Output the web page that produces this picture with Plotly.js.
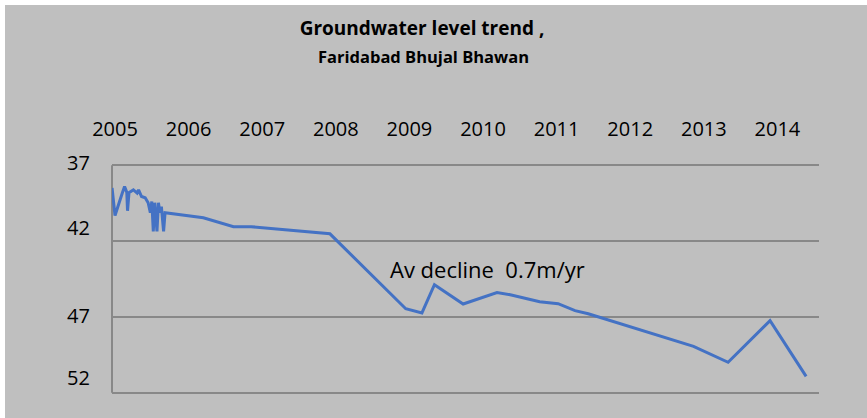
<!DOCTYPE html>
<html>
<head>
<meta charset="utf-8">
<script src="https://cdn.plot.ly/plotly-3.0.1.min.js"></script>
<style>
  html, body { margin: 0; padding: 0; background: #ffffff; width: 867px; height: 418px; overflow: hidden; }
  #chart { position: absolute; left: 5px; top: 5px; width: 862px; height: 413px; }
</style>
</head>
<body>
<div id="chart"></div>
<script>
// Groundwater level (m below ground), decimal year
const years = [2004.96, 2005.00, 2005.10, 2005.13, 2005.16, 2005.17, 2005.19, 2005.25, 2005.30, 2005.32,
               2005.36, 2005.41, 2005.45, 2005.48, 2005.50, 2005.52, 2005.54, 2005.57, 2005.59, 2005.61,
               2005.63, 2005.66, 2005.68, 2006.20, 2006.61, 2006.85, 2007.92, 2008.95, 2009.17, 2009.34,
               2009.73, 2010.19, 2010.37, 2010.77, 2011.02, 2011.25, 2011.43, 2012.86, 2013.33, 2013.90,
               2014.39];
const levels = [38.50, 40.31, 38.81, 38.40, 38.79, 40.00, 38.81, 38.62, 38.83, 38.62,
                39.06, 39.14, 39.47, 40.13, 39.39, 41.36, 39.47, 41.36, 39.47, 40.13,
                39.72, 41.36, 40.13, 40.46, 41.05, 41.05, 41.52, 46.46, 46.74, 44.88,
                46.15, 45.39, 45.54, 46.00, 46.13, 46.59, 46.79, 48.94, 49.99, 47.25,
                50.92];
const xTickVals = [2005, 2006, 2007, 2008, 2009, 2010, 2011, 2012, 2013, 2014];
const xTickText = ['2005', '2006', '2007', '2008', '2009', '2010', '2011', '2012', '2013', '2014'];
const yTickVals = [37, 42, 47, 52];
const yTickText = ['37', '42', '47', '52'];
const titleText = 'Groundwater level trend ,';
const subtitleText = 'Faridabad Bhujal Bhawan';
const noteText = 'Av decline  0.7m/yr';

// label vertical offsets (px) as placed in the original
const yLabelShift = [3, 14, 1, 15];

const FONT = 'Open Sans, Noto Sans, sans-serif';
const GRID = '#888888';

const TOP = 158.2, BOTTOM = 22.7, H = 413;
const plotH = H - TOP - BOTTOM;

const annotations = yTickText.map((t, i) => ({
  xref: 'paper', yref: 'y', x: 0, y: yTickVals[i],
  xanchor: 'right', yanchor: 'middle', xshift: -20, yshift: yLabelShift[i],
  text: t, showarrow: false, font: { family: FONT, size: 20, color: '#000' }
}));
annotations.push({
  xref: 'paper', yref: 'paper', x: (423 - 112) / 707, y: (H - BOTTOM - 52) / plotH,
  xanchor: 'center', yanchor: 'middle',
  text: '<b>' + subtitleText + '</b>', showarrow: false,
  font: { family: FONT, size: 16.5, color: '#000' }
});
annotations.push({
  xref: 'x', yref: 'y', x: 2010.06, y: 43.82, xanchor: 'center', yanchor: 'middle',
  text: noteText, showarrow: false, font: { family: FONT, size: 22, color: '#000' }
});

const data = [{
  x: years, y: levels, type: 'scatter', mode: 'lines',
  line: { color: '#4472C4', width: 3 }, hoverinfo: 'skip'
}];

const layout = {
  width: 862, height: H,
  paper_bgcolor: '#bfbfbf', plot_bgcolor: '#bfbfbf',
  margin: { l: 107, r: 48, t: TOP, b: BOTTOM },
  showlegend: false,
  title: {
    text: '<b>' + titleText + '</b>',
    font: { family: FONT, size: 19, color: '#000' },
    x: 417 / 862, xref: 'container', xanchor: 'center',
    y: 1 - 23 / H, yref: 'container', yanchor: 'middle'
  },
  xaxis: {
    range: [2004.959, 2014.565], side: 'top',
    tickvals: xTickVals, ticktext: xTickText,
    showgrid: false, zeroline: false, showline: false, ticks: '',
    ticklabelstandoff: 22,
    tickfont: { family: FONT, size: 20, color: '#000' }
  },
  yaxis: {
    range: [52.15, 36.85], tickvals: yTickVals,
    showticklabels: false, showgrid: true, gridcolor: GRID, gridwidth: 2,
    showline: false, zeroline: false, ticks: ''
  },
  shapes: [{
    type: 'line', xref: 'paper', yref: 'y', x0: 0, x1: 0,
    y0: yTickVals[0], y1: yTickVals[yTickVals.length - 1],
    line: { color: GRID, width: 2 }, layer: 'below'
  }],
  annotations: annotations
};

Plotly.newPlot('chart', data, layout, { displayModeBar: false, staticPlot: true });
</script>
</body>
</html>
